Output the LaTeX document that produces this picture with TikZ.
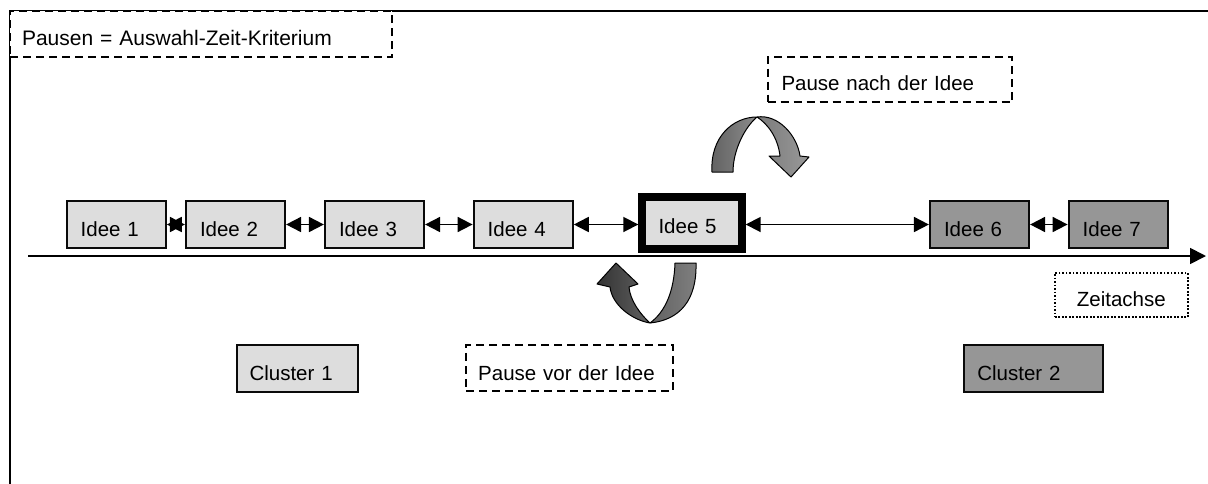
\documentclass[tikz,border=0pt]{standalone}
\usepackage{fontspec}
\setmainfont{Liberation Sans}
\usetikzlibrary{arrows.meta}
\definecolor{lightbox}{HTML}{DDDDDD}
\definecolor{darkbox}{HTML}{969696}
\definecolor{edge}{HTML}{0A0A0A}
\begin{document}
\begin{tikzpicture}[x=1pt,y=-1pt,
  txt/.style={font=\fontsize{20.5pt}{24pt}\selectfont},
  box/.style={txt, draw=edge, line width=2.2pt, rectangle, inner xsep=14pt, inner ysep=0pt,
              text height=23pt, text depth=0pt, align=left},
  idee/.style={box, fill=lightbox, minimum width=99pt, minimum height=47pt, text width=71pt},
  ideedark/.style={idee, fill=darkbox},
  dashbox/.style={box, draw=black, fill=white, dash pattern=on 8pt off 5pt},
  dotbox/.style={box, draw=black, fill=white, line width=1.8pt, dash pattern=on 1.6pt off 1.9pt},
  dbl/.style={line width=1.8pt, {Triangle[length=15pt,width=15pt]}-{Triangle[length=15pt,width=15pt]}},
  axisline/.style={line width=1.8pt, -{Triangle[length=16pt,width=16pt]}},
  frameline/.style={line width=1.8pt},
  uturn/.style={draw=black, line width=1pt, line join=round}
]
\useasboundingbox (0,0) rectangle (1208,483);

% outer frame
\coordinate (f1) at (1212,11);
\coordinate (f2) at (10,11);
\coordinate (f3) at (10,487);
\draw[frameline] (f1) -- (f2) -- (f3);

% title
\node[dashbox, minimum width=382pt, minimum height=46pt, text width=358pt, inner xsep=12pt, text height=22pt, font=\fontsize{21pt}{25pt}\selectfont]
  (title) at (201,34) {Pausen = Auswahl-Zeit-Kriterium};

% time axis
\coordinate (ax0) at (28,256);
\coordinate (ax1) at (1206,256);
\draw[axisline] (ax0) -- (ax1);

% ideas
\node[idee] (i1) at (116.2,224.5) {Idee 1};
\node[idee] (i2) at (235.5,224.5) {Idee 2};
\node[idee] (i3) at (374.5,224.5) {Idee 3};
\node[idee] (i4) at (523.2,224.5) {Idee 4};
\node[idee, line width=8pt, draw=black, minimum width=99.4pt, minimum height=52pt, inner xsep=16pt, text width=67pt, text height=21.2pt]
  (i5) at (692,222.7) {Idee 5};
\node[ideedark] (i6) at (979.5,224.5) {Idee 6};
\node[ideedark] (i7) at (1118.2,224.5) {Idee 7};

% connectors
\draw[dbl] (i1.east) -- (i2.west);
\draw[dbl] (i2.east) -- (i3.west);
\draw[dbl] (i3.east) -- (i4.west);
\draw[dbl] (i4.east) -- (i4.east -| i5.west);
\draw[dbl] (i6.west -| i5.east) -- (i6.west);
\draw[dbl] (i6.east) -- (i7.west);

% labels
\node[dotbox, minimum width=132.7pt, minimum height=44.6pt, text width=110pt, inner xsep=11pt, align=center, text height=23.4pt]
  (zeit) at (1121.3,295) {Zeitachse};
\node[box, fill=lightbox, minimum width=121pt, minimum height=46.7pt, inner xsep=12.5pt, text width=96pt, text height=23.4pt]
  (c1) at (297.5,368.3) {Cluster 1};
\node[box, fill=darkbox, minimum width=139.3pt, minimum height=47pt, inner xsep=13.5pt, text width=112pt, text height=23.4pt]
  (c2) at (1033.3,368.5) {Cluster 2};
\node[dashbox, minimum width=207pt, minimum height=46pt, inner xsep=12pt, text width=183pt, text height=24.4pt]
  (pvor) at (569.7,367.8) {Pause vor der Idee};
\node[dashbox, minimum width=244.6pt, minimum height=45.3pt, inner xsep=13.5pt, text width=217pt, text height=20.6pt]
  (pnach) at (890,79.7) {Pause nach der Idee};

% upper U-turn arrow (pause after the idea)
\path[uturn, left color=black!62, right color=black!45]
  (712,172) .. controls (710,137) and (733,117) .. (757,117)
  .. controls (745,127) and (733,150) .. (733,172) -- cycle;
\path[uturn, left color=black!52, right color=black!40]
  (757,117) .. controls (778,114) and (797,135) .. (800,156)
  -- (809,157) -- (791,177) -- (769,156) -- (780,156)
  .. controls (778,138) and (768,124) .. (757,117) -- cycle;

% lower U-turn arrow (pause before the idea)
\path[uturn, left color=black!62, right color=black!50]
  (675,263) -- (696,263) .. controls (697,300) and (680,320) .. (650,323)
  .. controls (665,312) and (674,292) .. (675,263) -- cycle;
\path[uturn, left color=black!80, right color=black!62]
  (610,287) .. controls (612,305) and (632,320) .. (650,323)
  .. controls (640,314) and (630,300) .. (629,287)
  -- (638,284) -- (616,263) -- (597,284) -- (610,287) -- cycle;
\end{tikzpicture}
\end{document}
